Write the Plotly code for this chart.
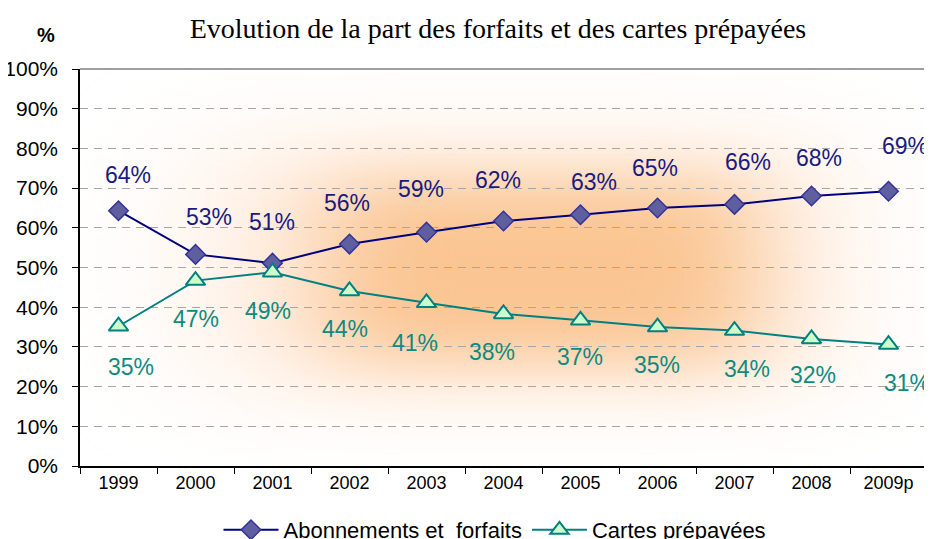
import base64
import plotly.graph_objects as go

years = ["1999", "2000", "2001", "2002", "2003", "2004", "2005", "2006", "2007", "2008", "2009p"]
abonnements = [0.643, 0.533, 0.511, 0.559, 0.589, 0.617, 0.633, 0.650, 0.659, 0.680, 0.692]
cartes = [0.352, 0.467, 0.488, 0.441, 0.411, 0.383, 0.367, 0.350, 0.341, 0.320, 0.306]

# label offsets in pixels (style only)
ab_dx = [9, 13, -1, -3, -6, -6, 13, -3, 13, 7, 16]
ab_dy = [36, 37, 41, 41, 43, 41, 33, 40, 42, 38, 45]
ca_dx = [12, 0, -5, -5, -12, -12, -1, -1, 12, 1, 18]
ca_dy = [41, 38, 39, 38, 40, 38, 37, 38, 38, 36, 38]

NAVY = "#000080"
TEAL = "#008080"
LBL_NAVY = "#1A1A80"
LBL_TEAL = "#108A80"

OFF = 8  # page body margin
W, H = 932 - OFF, 539 - OFF
L, R, T, B = 80 - OFF, 5, 69 - OFF, 73
PW, PH = W - L - R, H - T - B

svg = (
    '<svg xmlns="http://www.w3.org/2000/svg" width="847" height="397" viewBox="0 0 847 397" preserveAspectRatio="none">'
    '<defs>'
    '<filter id="b" x="-1" y="-1" width="3" height="3"><feGaussianBlur stdDeviation="52 32"/></filter>'
    '<filter id="c" x="-1" y="-1" width="3" height="3"><feGaussianBlur stdDeviation="80 50"/></filter>'
    '</defs>'
    '<rect width="847" height="397" fill="#ffffff"/>'
    '<rect x="130" y="75" width="620" height="240" fill="#FEEADA" filter="url(#c)"/>'
    '<rect x="250" y="115" width="420" height="175" fill="#FAC592" filter="url(#b)"/>'
    '</svg>'
)
uri = "data:image/svg+xml;base64," + base64.b64encode(svg.encode()).decode()

fig = go.Figure()
fig.add_trace(go.Scatter(
    x=years, y=abonnements, name="Abonnements et  forfaits", mode="lines+markers",
    line=dict(color=NAVY, width=2),
    marker=dict(symbol="diamond", size=15, color="#5F5F9F", line=dict(color="#333399", width=1.5)),
))
fig.add_trace(go.Scatter(
    x=years, y=cartes, name="Cartes prépayées", mode="lines+markers",
    line=dict(color=TEAL, width=2),
    marker=dict(symbol="triangle-up", size=17, color="#CCFFCC", line=dict(color=TEAL, width=2)),
))

annotations = []
for i, v in enumerate(abonnements):
    annotations.append(dict(x=i, y=v, text=f"{round(v*100)}%", showarrow=False,
                            xshift=ab_dx[i], yshift=ab_dy[i], font=dict(size=23, color=LBL_NAVY,
                            family="Arial, Liberation Sans")))
for i, v in enumerate(cartes):
    annotations.append(dict(x=i, y=v, text=f"{round(v*100)}%", showarrow=False,
                            xshift=ca_dx[i], yshift=-ca_dy[i], font=dict(size=23, color=LBL_TEAL,
                            family="Arial, Liberation Sans")))
annotations.append(dict(x=(35 - OFF - L) / PW, y=(H - B - (22 - OFF)) / PH, xref="paper", yref="paper",
                        text="<b>%</b>", showarrow=False,
                        font=dict(size=20, color="black", family="Arial, Liberation Sans")))

shapes = [
    dict(type="line", xref="paper", yref="paper", x0=0, x1=1, y0=1, y1=1,
         line=dict(color="#7F7F7F", width=1.5), layer="above"),
    dict(type="line", xref="paper", yref="paper", x0=1, x1=1, y0=0, y1=1,
         line=dict(color="#7F7F7F", width=1.5), layer="above"),
]

fig.update_layout(
    width=W, height=H,
    margin=dict(l=L, r=R, t=T, b=B, autoexpand=False),
    paper_bgcolor="white", plot_bgcolor="rgba(0,0,0,0)",
    font=dict(family="Arial, Liberation Sans", color="black"),
    title=dict(text="Evolution de la part des forfaits et des cartes prépayées",
               x=(498 - OFF) / W, xanchor="center", xref="container",
               y=1 - (28 - OFF) / H, yanchor="middle", yref="container",
               font=dict(family="Times New Roman, Liberation Serif", size=28, color="black")),
    images=[dict(source=uri, xref="paper", yref="paper", x=0, y=1, sizex=1, sizey=1,
                 xanchor="left", yanchor="top", sizing="stretch", layer="below")],
    annotations=annotations,
    shapes=shapes,
    showlegend=True,
    legend=dict(orientation="h", x=(495 - 80) / PW, xanchor="center", y=-64 / PH, yanchor="middle",
                itemwidth=55,
                font=dict(size=22, family="Arial, Liberation Sans"), bgcolor="rgba(0,0,0,0)"),
    xaxis=dict(type="category", categoryorder="array", categoryarray=years,
               range=[-0.5, len(years) - 0.5],
               tickson="boundaries", ticks="outside", ticklen=6, tickcolor="black",
               showline=True, linecolor="black", linewidth=1.5, showgrid=False,
               tickfont=dict(size=18), tickangle=0, fixedrange=True),
    yaxis=dict(range=[0, 1], dtick=0.1, tickformat=".0%", ticks="outside", ticklen=6,
               tickcolor="black", showline=True, linecolor="black", linewidth=1.5,
               showgrid=True, gridcolor="#A6A6A6", griddash="8px,6px", gridwidth=1.2,
               zeroline=False, tickfont=dict(size=21), ticklabelstandoff=10),
)

fig.write_html("out.html")
